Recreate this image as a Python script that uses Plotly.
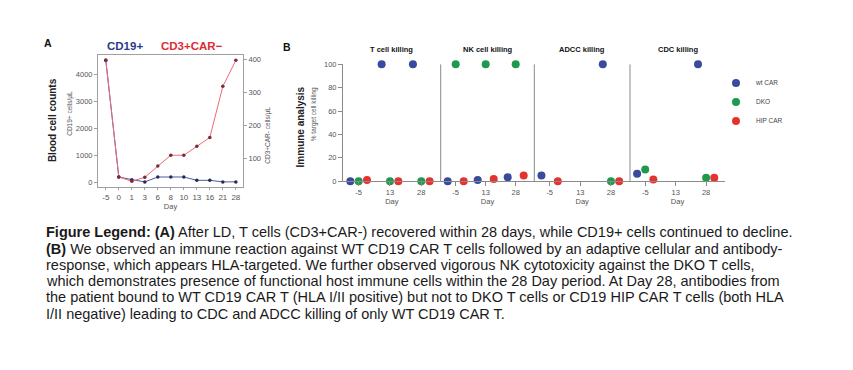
import plotly.graph_objects as go

W, H = 853, 370

# ---------------- Panel A data ----------------
days_A = ["-5", "0", "1", "3", "6", "8", "10", "13", "16", "21", "28"]
cd19 = [4520, 216, 119, 36, 216, 216, 216, 94, 94, 36, 36]          # cells/uL (left axis)
cd3car = [398, 43, 30, 42, 76, 109, 109, 136, 163, 318, 397]        # cells/uL (right axis)

# ---------------- Panel B data ----------------
days_B = ["-5", "13", "28"]
assays = ["T cell killing", "NK cell killing", "ADCC killing", "CDC killing"]
wt_car = [[0, 100, 100], [0, 1, 3.5], [5, None, 100], [6.5, None, 100]]
dko = [[0, 0, 0], [100, 100, 100], [None, None, 0], [10, None, 3]]
hip_car = [[1, 0, 0], [0, 2, 5], [0, None, 0], [1.5, None, 3]]
nd_labels = [[], [], ["13"], ["13"]]
series_names = ["wt CAR", "DKO", "HIP CAR"]
series_vals = [wt_car, dko, hip_car]

caption_lines = [
    "<b>Figure Legend: (A)</b> After LD, T cells (CD3+CAR-) recovered within 28 days, while CD19+ cells continued to decline.",
    "<b>(B)</b> We observed an immune reaction against WT CD19 CAR T cells followed by an adaptive cellular and antibody-",
    "response, which appears HLA-targeted. We further observed vigorous NK cytotoxicity against the DKO T cells,",
    "which demonstrates presence of functional host immune cells within the 28 Day period. At Day 28, antibodies from",
    "the patient bound to WT CD19 CAR T (HLA I/II positive) but not to DKO T cells or CD19 HIP CAR T cells (both HLA",
    "I/II negative) leading to CDC and ADCC killing of only WT CD19 CAR T.",
]

BLUE = "#3a4a9c"
GREEN = "#1e9a4c"
RED = "#e5322e"
colors = [BLUE, GREEN, RED]
TXT = "#555555"
FONT = "Liberation Sans, Arial, sans-serif"


def fx(px):
    return px / W


def fy(py):
    return 1 - py / H


fig = go.Figure()

# Panel A traces
fig.add_trace(go.Scatter(
    x=days_A, y=cd19, mode="lines+markers", xaxis="x", yaxis="y",
    line=dict(color="#4a5aa8", width=1), marker=dict(color="#2a2a4a", size=3.5),
    showlegend=False))
fig.add_trace(go.Scatter(
    x=days_A, y=cd3car, mode="lines+markers", xaxis="x", yaxis="y2",
    line=dict(color="#ec6b74", width=1), marker=dict(color="#7a2a3a", size=3.5),
    showlegend=False))

# Panel B traces
xnames = ["x3", "x4", "x5", "x6"]
for p, ax in enumerate(xnames):
    for s in range(3):
        fig.add_trace(go.Scatter(
            x=days_B, y=series_vals[s][p], mode="markers",
            xaxis=ax, yaxis="y3", name=series_names[s],
            offsetgroup=str(s), legendgroup=series_names[s],
            showlegend=(p == 0), cliponaxis=False,
            marker=dict(color=colors[s], size=8)))

panel_px = [(343, 440.7), (440.7, 534.3), (534.3, 630), (630, 725)]

layout = dict(
    width=W, height=H, margin=dict(l=0, r=0, t=0, b=0),
    paper_bgcolor="white", plot_bgcolor="white",
    font=dict(family=FONT, color=TXT, size=7),
    scattermode="group", scattergap=0.2, hovermode=False,
    xaxis=dict(domain=[fx(98), fx(243)], type="category", range=[-0.6, 10.55],
               showline=True, linecolor="#a0a0a0", linewidth=1, mirror=True,
               ticks="outside", ticklen=2, tickcolor="#a0a0a0",
               tickfont=dict(size=8, color=TXT), showgrid=False,
               title=dict(text="Day", font=dict(size=7.5, color=TXT), standoff=1),
               anchor="y"),
    yaxis=dict(domain=[fy(188), fy(52)], range=[-169, 4731],
               tickvals=[0, 1000, 2000, 3000, 4000],
               showline=True, linecolor="#a0a0a0", linewidth=1, mirror=True,
               ticks="outside", ticklen=3, tickcolor="#a0a0a0",
               tickfont=dict(size=7.5, color=TXT), showgrid=False, zeroline=False,
               anchor="x"),
    yaxis2=dict(domain=[fy(188), fy(52)], range=[11.3, 414], overlaying="y",
                side="right", tickvals=[100, 200, 300, 400],
                ticks="outside", ticklen=3, tickcolor="#a0a0a0",
                tickfont=dict(size=7.5, color=TXT), showgrid=False, zeroline=False,
                showline=False, anchor="x"),
    yaxis3=dict(domain=[fy(181.7), fy(61.7)], range=[0, 100],
                tickvals=[0, 20, 40, 60, 80, 100],
                showline=True, linecolor="#8a8a8a", linewidth=1,
                ticks="outside", ticklen=4, tickcolor="#8a8a8a",
                tickfont=dict(size=7.5, color=TXT), showgrid=False, zeroline=False,
                anchor="x3"),
    legend=dict(x=fx(716), y=fy(66), xanchor="left", yanchor="top",
                font=dict(size=6.5, color="#444"), bgcolor="rgba(0,0,0,0)",
                tracegroupgap=0, itemwidth=30),
)
for i, ax in enumerate(xnames):
    key = "xaxis" + ax[1:]
    layout[key] = dict(
        domain=[fx(panel_px[i][0]), fx(panel_px[i][1])], type="category",
        categoryorder="array", categoryarray=days_B, range=[-0.5, 2.62],
        anchor="y3", showline=True, linecolor="#8a8a8a", linewidth=1,
        ticks="outside", ticklen=4, tickcolor="#8a8a8a",
        tickfont=dict(size=7.5, color=TXT), showgrid=False,
        title=dict(text="Day", font=dict(size=7.5, color=TXT), standoff=2))
fig.update_layout(**layout)

shapes = []
for i in range(1, 4):
    shapes.append(dict(type="line", xref="x%d domain" % (i + 3), yref="y3",
                       x0=0, x1=0, y0=0, y1=100,
                       line=dict(color="#8a8a8a", width=1)))
fig.update_layout(shapes=shapes)

ann = []
# Panel letters & titles
ann.append(dict(x=fx(48), y=fy(40), text="<b>A</b>", font=dict(size=10.5, color="#111")))
ann.append(dict(x=fx(287), y=fy(44), text="<b>B</b>", font=dict(size=10.5, color="#111")))
ann.append(dict(x=fx(125), y=fy(43.5), text="<b>CD19+</b>", font=dict(size=11.5, color="#2b3a8c")))
ann.append(dict(x=fx(192), y=fy(43.5), text="<b>CD3+CAR−</b>", font=dict(size=11.5, color="#e02a35")))
ann.append(dict(x=fx(52), y=fy(119), text="<b>Blood cell counts</b>", textangle=-90,
                font=dict(size=10, color="#222")))
ann.append(dict(x=fx(70.5), y=fy(112), text="CD19+ cells/µL", textangle=-90,
                font=dict(size=6.5, color=TXT)))
ann.append(dict(x=fx(268), y=fy(135), text="CD3+CAR- cells/µL", textangle=-90,
                font=dict(size=6.5, color=TXT)))
ann.append(dict(x=fx(300.5), y=fy(126), text="<b>Immune analysis</b>", textangle=-90,
                font=dict(size=10, color="#222")))
ann.append(dict(x=fx(314), y=fy(113), text="% target cell killing", textangle=-90,
                font=dict(size=6.5, color=TXT)))
for i, name in enumerate(assays):
    ann.append(dict(x=fx((panel_px[i][0] + panel_px[i][1]) / 2), y=fy(47),
                    text="<b>%s</b>" % name, font=dict(size=7.5, color="#111")))
    for d in nd_labels[i]:
        ann.append(dict(x=d, y=0, xref=xnames[i], yref="y3", yanchor="bottom",
                        yshift=1, text="N.D.", font=dict(size=7.5, color=TXT)))
# Caption
for k, line in enumerate(caption_lines):
    ann.append(dict(x=fx(43.5), y=fy(234 + 16.7 * k), xanchor="left", text=line,
                    font=dict(size=14.5, color="#1a1a1a")))

for a in ann:
    a.setdefault("xref", "paper")
    a.setdefault("yref", "paper")
    a.setdefault("xanchor", "center")
    a.setdefault("yanchor", "middle")
    a["showarrow"] = False
fig.update_layout(annotations=ann)

fig.write_html("out.html", config={"displayModeBar": False, "staticPlot": True},
               post_script="document.body.style.margin='0';document.body.style.overflow='hidden';")
